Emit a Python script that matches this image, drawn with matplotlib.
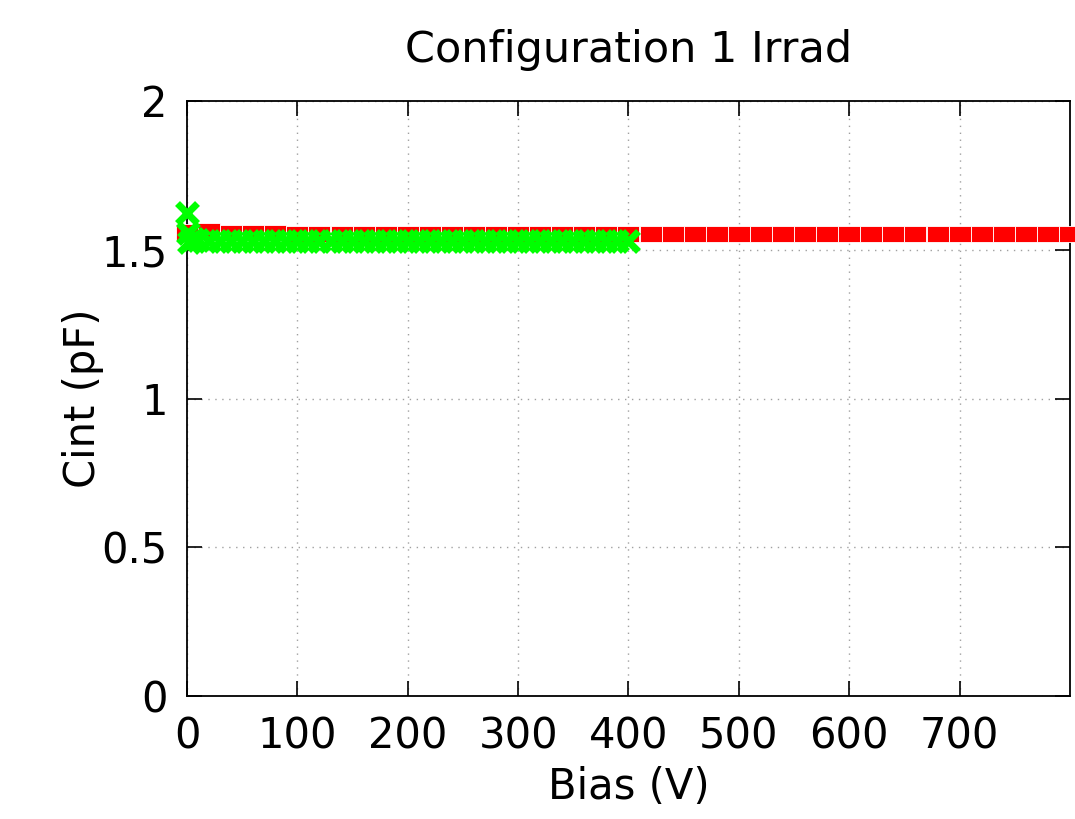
import matplotlib
matplotlib.use('Agg')
import matplotlib.pyplot as plt
import numpy as np

# red series - bias in V, Cint in pF
red_bias = [0, 20, 40, 60, 80, 100, 120, 140, 160, 180, 200, 220, 240, 260, 280, 300,
            320, 340, 360, 380, 400, 420, 440, 460, 480, 500, 520, 540, 560, 580, 600,
            620, 640, 660, 680, 700, 720, 740, 760, 780, 800]
red_cint = [1.56, 1.562, 1.556, 1.555, 1.555, 1.554, 1.554, 1.554, 1.554, 1.553, 1.553,
            1.553, 1.553, 1.553, 1.553, 1.553, 1.553, 1.553, 1.553, 1.553, 1.553, 1.553,
            1.553, 1.553, 1.553, 1.553, 1.553, 1.553, 1.553, 1.553, 1.553, 1.553, 1.553,
            1.553, 1.553, 1.553, 1.553, 1.553, 1.553, 1.553, 1.553]

# green series
green_bias = [0, 1, 2, 5, 10, 20, 30, 40, 50, 60, 70, 80, 90, 100, 110, 120, 130, 140,
              150, 160, 170, 180, 190, 200, 210, 220, 230, 240, 250, 260, 270, 280, 290,
              300, 310, 320, 330, 340, 350, 360, 370, 380, 390, 400]
green_cint = [1.625, 1.555, 1.525, 1.535, 1.532, 1.53, 1.53, 1.53, 1.53, 1.53, 1.53, 1.53,
              1.53, 1.53, 1.53, 1.53, 1.53, 1.53, 1.53, 1.53, 1.53, 1.53, 1.53, 1.53,
              1.53, 1.53, 1.53, 1.53, 1.53, 1.53, 1.53, 1.53, 1.53, 1.53, 1.53, 1.53,
              1.53, 1.53, 1.53, 1.53, 1.53, 1.53, 1.53, 1.53]

plt.rcParams['font.family'] = ['DejaVu Sans']

fig = plt.figure(figsize=(10.75, 8.19), dpi=100)
ax = fig.add_axes([0.174, 0.150, 0.8213, 0.7267])

# wide rectangle marker, like the gnuplot filled boxes
rect = [(-1.35, -1), (1.35, -1), (1.35, 1), (-1.35, 1), (-1.35, -1)]
ax.plot(red_bias, red_cint, linestyle='none', marker=rect, markersize=16,
        color='#ff0000', markeredgecolor='white', markeredgewidth=0.6, clip_on=False, zorder=3)
ax.plot(green_bias, green_cint, linestyle='none', marker='x', markersize=14,
        markeredgewidth=5, color='#00ff00', clip_on=False, zorder=4)

ax.set_xlim(0, 800)
ax.set_ylim(0, 2)
ax.set_xticks([0, 100, 200, 300, 400, 500, 600, 700])
ax.set_yticks([0, 0.5, 1, 1.5, 2])
ax.set_yticklabels(['0', '0.5', '1', '1.5', '2'])

ax.grid(True, color='#a0a0a0', linestyle=(0, (1, 4)), linewidth=1)
ax.tick_params(direction='in', length=11, width=1.2, top=True, right=True,
               labelsize=30, pad=14)
for s in ax.spines.values():
    s.set_linewidth(1.3)

ax.set_title('Configuration 1 Irrad', fontsize=31, pad=28)
ax.set_xlabel('Bias (V)', fontsize=30, labelpad=6)
ax.set_ylabel('Cint (pF)', fontsize=30, labelpad=-2)

fig.savefig('out.png', dpi=100)
